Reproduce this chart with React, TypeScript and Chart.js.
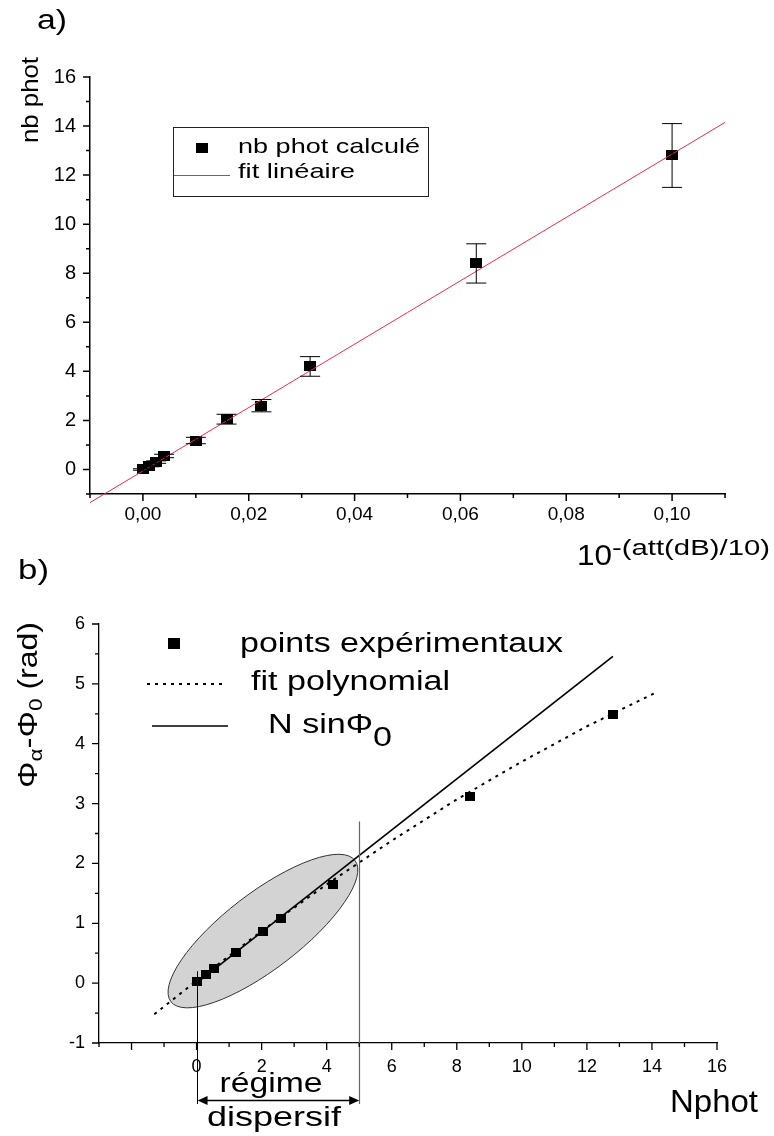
import React, { useEffect, useRef } from 'react';
import { Chart, registerables } from 'chart.js';

Chart.register(...registerables);

const FONT = "'Liberation Sans', Arial, Helvetica, sans-serif";

// ---------- panel a ----------
const A_X = [0, 0.0012, 0.0025, 0.004, 0.01, 0.0158, 0.0224, 0.0316, 0.063, 0.1];
const A_Y = [0, 0.14, 0.3, 0.55, 1.18, 2.05, 2.6, 4.2, 8.4, 12.8];
const A_ERR = [0.03, 0.03, 0.05, 0.07, 0.13, 0.2, 0.25, 0.4, 0.8, 1.3];
const A_FIT_X = [-0.01, 0.11];
const A_FIT_Y = [-1.35, 14.15];
const A_X_TICKS = [0, 0.02, 0.04, 0.06, 0.08, 0.1];
const A_X_MINOR = [-0.01, 0.01, 0.03, 0.05, 0.07, 0.09, 0.11];
const A_Y_TICKS = [0, 2, 4, 6, 8, 10, 12, 14, 16];
const A_Y_MINOR = [-1, 1, 3, 5, 7, 9, 11, 13, 15];

// ---------- panel b ----------
const B_X = [0, 0.3, 0.55, 1.2, 2.05, 2.6, 4.2, 8.4, 12.8];
const B_Y = [0.02, 0.14, 0.25, 0.52, 0.86, 1.08, 1.65, 3.12, 4.48];
const B_POLY_X = [-1.3, 0, 2, 4, 6, 8, 10, 12, 14.1];
const B_POLY_Y = [-0.52, 0.04, 0.87, 1.65, 2.38, 3.07, 3.7, 4.29, 4.85];
const B_LIN_X = [0, 12.8];
const B_LIN_Y = [0, 5.46];
const B_X_TICKS = [0, 2, 4, 6, 8, 10, 12, 14, 16];
const B_X_MAJOR_EXTRA = [-2];
const B_X_MINOR = [-3, -1, 1, 3, 5, 7, 9, 11, 13, 15];
const B_Y_TICKS = [-1, 0, 1, 2, 3, 4, 5, 6];
const B_Y_MINOR = [-0.5, 0.5, 1.5, 2.5, 3.5, 4.5, 5.5];

// annotation anchors (data coordinates)
const ELLIPSE_CENTER = { x: 2.04, y: 0.87 };
const VLINES = [
  { x: 0, from: 0.2, to: -2.02, color: '#000', width: 1 },
  { x: 5, from: 2.7, to: -2.02, color: '#666', width: 1.2 },
];
const ARROW = { x1: 0, x2: 5, y: -1.96 };

type Part = { t: string; size: number; dy?: number };

function drawRich(
  ctx: CanvasRenderingContext2D,
  parts: Part[],
  x: number,
  y: number,
  opts: { align?: 'left' | 'center' | 'right'; width?: number; rotate?: boolean } = {}
) {
  ctx.save();
  ctx.fillStyle = '#000';
  ctx.textBaseline = 'alphabetic';
  ctx.textAlign = 'left';
  let natural = 0;
  const widths = parts.map((p) => {
    ctx.font = `${p.size}px ${FONT}`;
    const w = ctx.measureText(p.t).width;
    natural += w;
    return w;
  });
  const sx = opts.width ? opts.width / natural : 1;
  ctx.translate(x, y);
  if (opts.rotate) ctx.rotate(-Math.PI / 2);
  ctx.scale(sx, 1);
  let cx = opts.align === 'center' ? -natural / 2 : opts.align === 'right' ? -natural : 0;
  parts.forEach((p, i) => {
    ctx.font = `${p.size}px ${FONT}`;
    ctx.fillText(p.t, cx, p.dy || 0);
    cx += widths[i];
  });
  ctx.restore();
}

function rectImage(w: number, h: number) {
  const c = document.createElement('canvas');
  c.width = w;
  c.height = h;
  const g = c.getContext('2d')!;
  g.fillStyle = '#000';
  g.fillRect(0, 0, w, h);
  return c;
}

function drawTickMarks(
  chart: any,
  xMajor: number[],
  xMinor: number[],
  yMajor: number[],
  yMinor: number[],
  lw: number
) {
  const { ctx, chartArea } = chart;
  const xs = chart.scales.x;
  const ys = chart.scales.y;
  ctx.save();
  ctx.strokeStyle = '#000';
  ctx.lineWidth = lw;
  ctx.beginPath();
  const b = chartArea.bottom;
  const l = chartArea.left;
  xMajor.forEach((v) => {
    const p = xs.getPixelForValue(v);
    ctx.moveTo(p, b);
    ctx.lineTo(p, b + 7);
  });
  xMinor.forEach((v) => {
    const p = xs.getPixelForValue(v);
    ctx.moveTo(p, b);
    ctx.lineTo(p, b + 4);
  });
  yMajor.forEach((v) => {
    const p = ys.getPixelForValue(v);
    ctx.moveTo(l, p);
    ctx.lineTo(l - 7, p);
  });
  yMinor.forEach((v) => {
    const p = ys.getPixelForValue(v);
    ctx.moveTo(l, p);
    ctx.lineTo(l - 4, p);
  });
  ctx.stroke();
  ctx.restore();
}

function pts(xs: number[], ys: number[]) {
  return xs.map((x, i) => ({ x, y: ys[i] }));
}

export default function App() {
  const refA = useRef<HTMLCanvasElement>(null);
  const refB = useRef<HTMLCanvasElement>(null);

  useEffect(() => {
    const markA = rectImage(12, 10);
    const markB = rectImage(10, 9);

    const pluginA = {
      id: 'panelA',
      afterDatasetsDraw(chart: any) {
        const { ctx } = chart;
        const xs = chart.scales.x;
        const ys = chart.scales.y;
        ctx.save();
        ctx.strokeStyle = '#000';
        ctx.lineWidth = 1;
        ctx.beginPath();
        A_X.forEach((xv, i) => {
          const px = xs.getPixelForValue(xv);
          const top = ys.getPixelForValue(A_Y[i] + A_ERR[i]);
          const bot = ys.getPixelForValue(A_Y[i] - A_ERR[i]);
          ctx.moveTo(px, top);
          ctx.lineTo(px, bot);
          ctx.moveTo(px - 10, top);
          ctx.lineTo(px + 10, top);
          ctx.moveTo(px - 10, bot);
          ctx.lineTo(px + 10, bot);
        });
        ctx.stroke();
        ctx.restore();
      },
      afterDraw(chart: any) {
        const { ctx } = chart;
        drawTickMarks(chart, A_X_TICKS, A_X_MINOR, A_Y_TICKS, A_Y_MINOR, 1.5);
        drawRich(ctx, [{ t: 'a)', size: 27 }], 37, 29, { width: 30 });
        drawRich(ctx, [{ t: 'nb phot', size: 24 }], 38, 100, { align: 'center', width: 86, rotate: true });
        // legend
        ctx.save();
        ctx.strokeStyle = '#222';
        ctx.lineWidth = 1;
        ctx.strokeRect(173.5, 127.5, 255, 69);
        ctx.drawImage(markA, 196, 143);
        ctx.strokeStyle = '#ee2a4e';
        ctx.beginPath();
        ctx.moveTo(174, 175.5);
        ctx.lineTo(230, 175.5);
        ctx.stroke();
        ctx.restore();
        drawRich(ctx, [{ t: 'nb phot calculé', size: 21 }], 238, 153, { width: 182 });
        drawRich(ctx, [{ t: 'fit linéaire', size: 21 }], 238, 178, { width: 117 });
        // x title
        drawRich(ctx, [{ t: '10', size: 30 }], 577, 565, { width: 35 });
        drawRich(ctx, [{ t: '-(att(dB)/10)', size: 22 }], 612, 555, { width: 158 });
      },
    };

    const chartA = new Chart(refA.current!, {
      type: 'scatter',
      data: {
        datasets: [
          {
            label: 'fit linéaire',
            data: pts(A_FIT_X, A_FIT_Y),
            showLine: true,
            borderColor: '#ee2a4e',
            borderWidth: 1,
            pointRadius: 0,
            clip: false,
            order: 0,
          } as any,
          {
            label: 'nb phot calculé',
            data: pts(A_X, A_Y),
            pointStyle: markA,
            pointRadius: 6,
            order: 1,
          } as any,
        ],
      },
      options: {
        animation: false,
        responsive: false,
        devicePixelRatio: 1,
        events: [],
        layout: { padding: { left: 30, right: 49, top: 77, bottom: 46 } },
        plugins: { legend: { display: false }, tooltip: { enabled: false } },
        scales: {
          x: {
            type: 'linear',
            min: -0.01,
            max: 0.11,
            afterBuildTicks: (s: any) => {
              s.ticks = A_X_TICKS.map((v) => ({ value: v }));
            },
            afterFit: (s: any) => {
              s.height = 40;
            },
            grid: { display: false, drawTicks: false },
            border: { display: true, color: '#000', width: 1.5 },
            ticks: {
              padding: 9,
              color: '#000',
              autoSkip: false,
              maxRotation: 0,
              font: { family: FONT, size: 19 },
              callback: (v: any) => Number(v).toFixed(2).replace('.', ','),
            },
          },
          y: {
            type: 'linear',
            min: -1,
            max: 16,
            afterBuildTicks: (s: any) => {
              s.ticks = A_Y_TICKS.map((v) => ({ value: v }));
            },
            afterFit: (s: any) => {
              s.width = 60;
            },
            grid: { display: false, drawTicks: false },
            border: { display: true, color: '#000', width: 1.5 },
            ticks: {
              padding: 14,
              color: '#000',
              autoSkip: false,
              font: { family: FONT, size: 20 },
              callback: (v: any) => String(v),
            },
          },
        },
      } as any,
      plugins: [pluginA],
    });

    const pluginB = {
      id: 'panelB',
      beforeDatasetsDraw(chart: any) {
        const { ctx } = chart;
        const xs = chart.scales.x;
        const ys = chart.scales.y;
        const cx = xs.getPixelForValue(ELLIPSE_CENTER.x);
        const cy = ys.getPixelForValue(ELLIPSE_CENTER.y);
        ctx.save();
        ctx.beginPath();
        ctx.ellipse(cx, cy, 116, 38, (-37.5 * Math.PI) / 180, 0, Math.PI * 2);
        ctx.fillStyle = '#d3d3d3';
        ctx.fill();
        ctx.strokeStyle = '#333';
        ctx.lineWidth = 1;
        ctx.stroke();
        ctx.restore();
      },
      afterDatasetsDraw(chart: any) {
        const { ctx } = chart;
        const xs = chart.scales.x;
        const ys = chart.scales.y;
        ctx.save();
        VLINES.forEach((l) => {
          const px = Math.round(xs.getPixelForValue(l.x)) + 0.5;
          ctx.strokeStyle = l.color;
          ctx.lineWidth = l.width;
          ctx.beginPath();
          ctx.moveTo(px, ys.getPixelForValue(l.from));
          ctx.lineTo(px, ys.getPixelForValue(l.to));
          ctx.stroke();
        });
        const ax1 = xs.getPixelForValue(ARROW.x1) + 1;
        const ax2 = xs.getPixelForValue(ARROW.x2);
        const ay = ys.getPixelForValue(ARROW.y);
        ctx.strokeStyle = '#000';
        ctx.fillStyle = '#000';
        ctx.lineWidth = 1.5;
        ctx.beginPath();
        ctx.moveTo(ax1 + 6, ay);
        ctx.lineTo(ax2 - 6, ay);
        ctx.stroke();
        ctx.beginPath();
        ctx.moveTo(ax1, ay);
        ctx.lineTo(ax1 + 10, ay - 4.5);
        ctx.lineTo(ax1 + 10, ay + 4.5);
        ctx.closePath();
        ctx.fill();
        ctx.beginPath();
        ctx.moveTo(ax2, ay);
        ctx.lineTo(ax2 - 10, ay - 4.5);
        ctx.lineTo(ax2 - 10, ay + 4.5);
        ctx.closePath();
        ctx.fill();
        ctx.restore();
      },
      afterDraw(chart: any) {
        const { ctx } = chart;
        drawTickMarks(chart, B_X_TICKS.concat(B_X_MAJOR_EXTRA), B_X_MINOR, B_Y_TICKS, B_Y_MINOR, 1.3);
        drawRich(ctx, [{ t: 'b)', size: 27 }], 18, 29, { width: 31 });
        drawRich(
          ctx,
          [
            { t: 'Φ', size: 28 },
            { t: 'α', size: 19, dy: 5 },
            { t: '-Φ', size: 28 },
            { t: '0', size: 19, dy: 5 },
            { t: ' (rad)', size: 27 },
          ],
          37,
          155,
          { align: 'center', width: 166, rotate: true }
        );
        // legend
        ctx.save();
        ctx.drawImage(markB, 168, 88, 12, 11);
        ctx.strokeStyle = '#000';
        ctx.lineWidth = 1.8;
        ctx.setLineDash([3, 5]);
        ctx.beginPath();
        ctx.moveTo(147, 134);
        ctx.lineTo(225, 134);
        ctx.stroke();
        ctx.setLineDash([]);
        ctx.lineWidth = 1.6;
        ctx.beginPath();
        ctx.moveTo(152, 176);
        ctx.lineTo(228, 176);
        ctx.stroke();
        ctx.restore();
        drawRich(ctx, [{ t: 'points expérimentaux', size: 27 }], 240, 102, { width: 323 });
        drawRich(ctx, [{ t: 'fit polynomial', size: 27 }], 251, 140, { width: 199 });
        drawRich(
          ctx,
          [
            { t: 'N sinΦ', size: 27 },
            { t: '0', size: 27, dy: 13 },
          ],
          268,
          183,
          { width: 124 }
        );
        drawRich(ctx, [{ t: 'régime', size: 27 }], 271, 542, { align: 'center', width: 103 });
        drawRich(ctx, [{ t: 'dispersif', size: 27 }], 274, 576, { align: 'center', width: 134 });
        drawRich(ctx, [{ t: 'Nphot', size: 31 }], 670, 562, { width: 88 });
      },
    };

    const chartB = new Chart(refB.current!, {
      type: 'scatter',
      data: {
        datasets: [
          {
            label: 'points expérimentaux',
            data: pts(B_X, B_Y),
            pointStyle: markB,
            pointRadius: 5,
            order: 0,
          } as any,
          {
            label: 'N sinΦ0',
            data: pts(B_LIN_X, B_LIN_Y),
            showLine: true,
            borderColor: '#000',
            borderWidth: 1.7,
            pointRadius: 0,
            order: 1,
          } as any,
          {
            label: 'fit polynomial',
            data: pts(B_POLY_X, B_POLY_Y),
            showLine: true,
            borderColor: '#000',
            borderWidth: 2,
            borderDash: [3, 5],
            pointRadius: 0,
            order: 2,
          } as any,
        ],
      },
      options: {
        animation: false,
        responsive: false,
        devicePixelRatio: 1,
        events: [],
        layout: { padding: { left: 39, right: 57, top: 74, bottom: 53 } },
        plugins: { legend: { display: false }, tooltip: { enabled: false } },
        scales: {
          x: {
            type: 'linear',
            min: -3,
            max: 16,
            afterBuildTicks: (s: any) => {
              s.ticks = B_X_TICKS.map((v) => ({ value: v }));
            },
            afterFit: (s: any) => {
              s.height = 40;
            },
            grid: { display: false, drawTicks: false },
            border: { display: true, color: '#000', width: 1.3 },
            ticks: {
              padding: 13,
              color: '#000',
              autoSkip: false,
              maxRotation: 0,
              font: { family: FONT, size: 18 },
              callback: (v: any) => String(v),
            },
          },
          y: {
            type: 'linear',
            min: -1,
            max: 6,
            afterBuildTicks: (s: any) => {
              s.ticks = B_Y_TICKS.map((v) => ({ value: v }));
            },
            afterFit: (s: any) => {
              s.width = 60;
            },
            grid: { display: false, drawTicks: false },
            border: { display: true, color: '#000', width: 1.3 },
            ticks: {
              padding: 14,
              color: '#000',
              autoSkip: false,
              font: { family: FONT, size: 18 },
              callback: (v: any) => String(v),
            },
          },
        },
      } as any,
      plugins: [pluginB],
    });

    return () => {
      chartA.destroy();
      chartB.destroy();
    };
  }, []);

  return (
    <div style={{ position: 'absolute', left: 0, top: 0, width: 774, height: 1136, background: '#fff' }}>
      <canvas
        ref={refA}
        width={774}
        height={580}
        style={{ position: 'absolute', left: 0, top: 0, width: 774, height: 580 }}
      />
      <canvas
        ref={refB}
        width={774}
        height={586}
        style={{ position: 'absolute', left: 0, top: 550, width: 774, height: 586 }}
      />
    </div>
  );
}
